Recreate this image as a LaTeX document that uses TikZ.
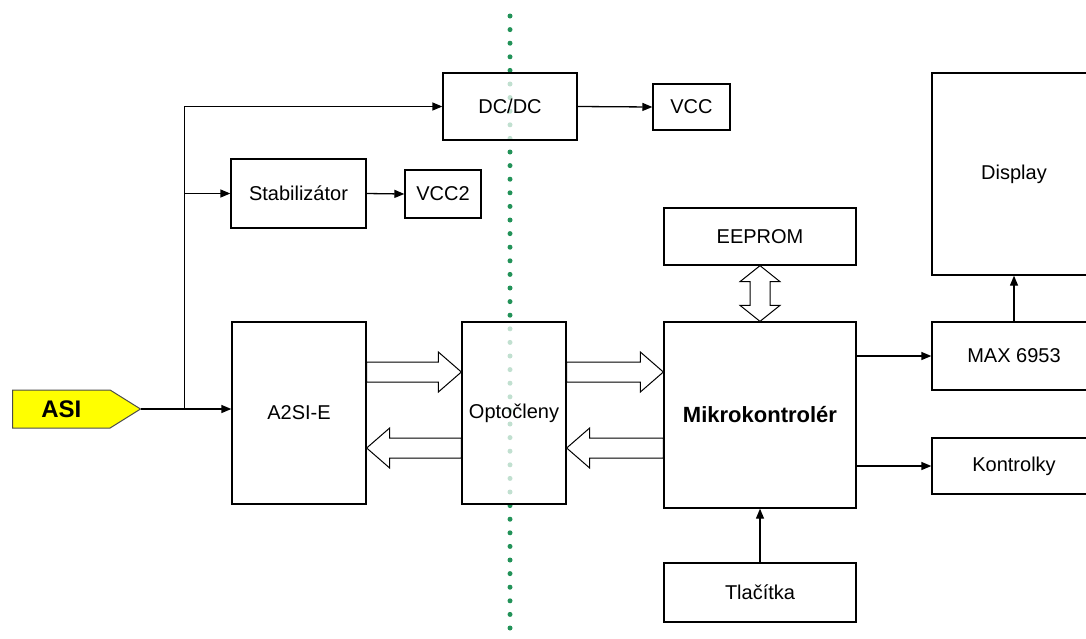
\documentclass[tikz,border=0pt]{standalone}
\usepackage{fontspec}
\setmainfont{Liberation Sans}
\usetikzlibrary{arrows.meta,calc,shapes.symbols}

\definecolor{dotgreen}{RGB}{34,146,88}
\definecolor{tagyellow}{RGB}{255,255,0}

% wide open arrow from #1 to #2
\newcommand\hollowarrow[2]{%
	\coordinate (hb) at ($(#2)!23pt!(#1)$);
	\draw[hollow] ($(#1)!10pt!90:(#2)$) -- ($(hb)!10pt!90:(#2)$)
		-- ($(hb)!20pt!90:(#2)$) -- (#2) -- ($(hb)!20pt!-90:(#2)$)
		-- ($(hb)!10pt!-90:(#2)$) -- ($(#1)!10pt!-90:(#2)$) -- cycle;}
% wide open arrow with heads on both ends
\newcommand\hollowdouble[2]{%
	\coordinate (ha) at ($(#1)!16pt!(#2)$);
	\coordinate (hb) at ($(#2)!16pt!(#1)$);
	\draw[hollow] (#1) -- ($(ha)!20pt!90:(#2)$) -- ($(ha)!10pt!90:(#2)$)
		-- ($(hb)!10pt!90:(#2)$) -- ($(hb)!20pt!90:(#2)$) -- (#2)
		-- ($(hb)!20pt!-90:(#2)$) -- ($(hb)!10pt!-90:(#2)$)
		-- ($(ha)!10pt!-90:(#2)$) -- ($(ha)!20pt!-90:(#2)$) -- cycle;}

\begin{document}
\begin{tikzpicture}[
		x=1pt, y=-1pt,
		font=\fontsize{20}{24}\selectfont,
		line width=1.3pt,
		box/.style = {rectangle, draw, fill=white, fill opacity=0.72,
			text opacity=1, inner sep=0pt},% blocks
		hollow/.style = {draw, fill=white, line width=1pt, line join=miter},
		conn/.style = {-{Triangle[length=10pt,width=8pt]}},
		dotline/.style = {dotgreen, line width=5pt, line cap=round,
			dash pattern=on 0pt off 13.6pt},
		asi/.style = {signal, signal to=east, signal pointer angle=64,
			draw=black!70, line width=1pt, fill=tagyellow,
			minimum width=128, minimum height=38, inner sep=0pt,
			font=\fontsize{24}{28}\selectfont\bfseries},
		]
		\useasboundingbox (0,0) rectangle (1086,638);
		\clip (0,0) rectangle (1086,638);
		% isolation barrier
		\draw[dotline] (510,16) -- (510,636);
		% blocks
		\node[box, minimum width=134, minimum height=67] (dcdc) at (510,106.5) {DC/DC};
		\node[box, minimum width=77, minimum height=46] (vcc) at (691.5,107) {VCC};
		\node[box, minimum width=135, minimum height=69] (stab) at (298.5,193.5) {Stabiliz\'ator};
		\node[box, minimum width=76, minimum height=48] (vcc2) at (443,194) {VCC2};
		\node[box, minimum width=164, minimum height=202] (display) at (1014,174) {Display};
		\node[box, minimum width=192, minimum height=57] (eeprom) at (760,236.5) {EEPROM};
		\node[box, minimum width=134, minimum height=182] (a2si) at (299,413) {A2SI-E};
		\node[box, minimum width=104, minimum height=182] (opto) at (514,413) {Opto\v{c}leny};
		\node[box, minimum width=192, minimum height=186, font=\fontsize{22}{26}\selectfont\bfseries]
			(mikro) at (760,415) {Mikrokontrol\'er};
		\node[box, minimum width=164, minimum height=68] (max) at (1014,356) {MAX 6953};
		\node[box, minimum width=164, minimum height=56] (kontr) at (1014,466) {Kontrolky};
		\node[box, minimum width=192, minimum height=59] (tlac) at (760,592.5) {Tla\v{c}\'itka};
		\node[asi, anchor=west] (asi) at (12,409) {ASI};
		% power branch
		\coordinate (jn) at ($(asi.east)+(43,0)$);
		\draw[conn] (asi.east) -- (asi.east -| a2si.west);
		\draw[conn] (jn) |- (dcdc.west);
		\draw[conn] (jn |- stab.west) -- (stab.west);
		\draw[conn] (stab.east) -- (vcc2.west);
		\draw[conn] (dcdc.east) -- (vcc.west);
		% outputs
		\draw[conn] (mikro.east |- max.west) -- (max.west);
		\draw[conn] (mikro.east |- kontr.west) -- (kontr.west);
		\draw[conn] (max.north) -- (display.south);
		\draw[conn] (tlac.north) -- (mikro.south);
		% data paths
		\coordinate (up) at ($(a2si.east)+(0,-41)$);
		\coordinate (dn) at ($(a2si.east)+(0,35)$);
		\hollowarrow{up}{up -| opto.west}
		\hollowarrow{dn -| opto.west}{dn}
		\hollowarrow{up -| opto.east}{up -| mikro.west}
		\hollowarrow{dn -| mikro.west}{dn -| opto.east}
		\hollowdouble{eeprom.south}{mikro.north}
	\end{tikzpicture}
\end{document}
